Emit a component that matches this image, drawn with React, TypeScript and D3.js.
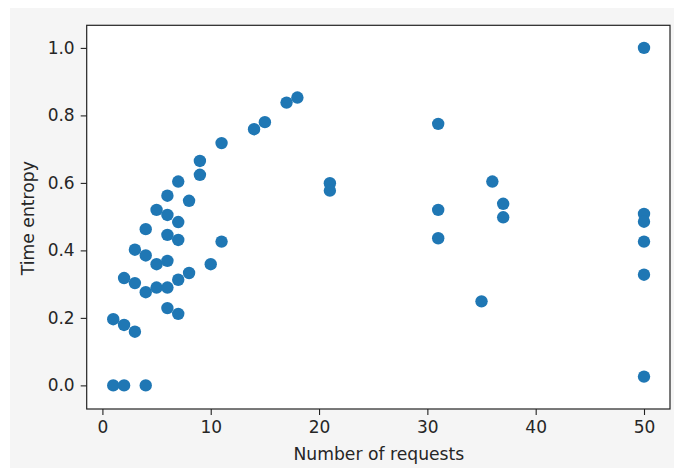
import React, { useEffect, useRef } from 'react';
import * as d3 from 'd3';

// values
const requests = [
  1, 2, 4,
  1, 2, 3,
  6, 7,
  2, 3, 4, 5, 6, 7, 8,
  3, 4, 5, 6, 10,
  4, 6, 7, 11,
  5, 6, 7, 8, 6, 7,
  9, 9, 11, 14, 15, 17, 18,
  21, 21,
  31, 31, 31,
  35, 36, 37, 37,
  50, 50, 50, 50, 50, 50,
];
const entropy = [
  0.0, 0.0, 0.0,
  0.196, 0.179, 0.159,
  0.229, 0.212,
  0.318, 0.303, 0.276, 0.29, 0.29, 0.313, 0.333,
  0.402, 0.385, 0.359, 0.369, 0.359,
  0.463, 0.446, 0.431, 0.426,
  0.52, 0.505, 0.484, 0.547, 0.562, 0.604,
  0.624, 0.665, 0.718, 0.759, 0.78, 0.838, 0.853,
  0.599, 0.577,
  0.775, 0.52, 0.436,
  0.249, 0.604, 0.538, 0.498,
  1.0, 0.508, 0.485, 0.426, 0.328, 0.026,
];
const xTicks = [0, 10, 20, 30, 40, 50];
const yTicks = [0, 0.2, 0.4, 0.6, 0.8, 1.0];

const W = 674;
const H = 468;

const App = () => {
  const ref = useRef<SVGSVGElement>(null);

  useEffect(() => {
    const svg = d3.select(ref.current);
    svg.selectAll('*').remove();

    const font = '"DejaVu Sans", sans-serif';
    const left = 86.7, right = 670, top = 25.3, bottom = 409;

    svg.append('rect').attr('width', W).attr('height', H).attr('fill', '#ffffff');
    svg.append('rect').attr('x', 10).attr('y', 8).attr('width', W - 10).attr('height', H - 8).attr('fill', '#f5f5f5');
    svg.append('rect').attr('x', left).attr('y', top).attr('width', right - left).attr('height', bottom - top).attr('fill', '#ffffff');

    const x = d3.scaleLinear().domain([-1.45, 52.4]).range([left, right]);
    const y = d3.scaleLinear().domain([-0.07, 1.067]).range([bottom, top]);

    // points
    svg.append('g')
      .selectAll('circle')
      .data(requests.map((r, i) => ({ r, e: entropy[i] })))
      .enter().append('circle')
      .attr('cx', d => x(d.r))
      .attr('cy', d => y(d.e))
      .attr('r', 6.2)
      .attr('fill', '#1f77b4');

    // axes
    const gx = svg.append('g')
      .attr('transform', `translate(0,${bottom})`)
      .call(d3.axisBottom(x).tickValues(xTicks).tickSize(6).tickPadding(6).tickFormat(d3.format('d')));
    const gy = svg.append('g')
      .attr('transform', `translate(${left},0)`)
      .call(d3.axisLeft(y).tickValues(yTicks).tickSize(6).tickPadding(6).tickFormat(d3.format('.1f')));

    [gx, gy].forEach(g => {
      g.select('.domain').remove();
      g.selectAll('line').attr('stroke', '#222').attr('stroke-width', 1.1);
      g.selectAll('text').attr('fill', '#262626').attr('font-family', font).attr('font-size', 17);
    });

    // frame
    svg.append('rect')
      .attr('x', left).attr('y', top)
      .attr('width', right - left).attr('height', bottom - top)
      .attr('fill', 'none').attr('stroke', '#222').attr('stroke-width', 1.2);

    svg.append('text')
      .attr('x', (left + right) / 2 + 0.5).attr('y', 459.5)
      .attr('text-anchor', 'middle')
      .attr('font-family', font).attr('font-size', 17.2).attr('fill', '#262626')
      .text('Number of requests');

    svg.append('text')
      .attr('transform', `translate(34,${(top + bottom) / 2 + 1}) rotate(-90)`)
      .attr('text-anchor', 'middle')
      .attr('font-family', font).attr('font-size', 17.2).attr('fill', '#262626')
      .text('Time entropy');
  }, []);

  return (
    <div style={{ position: 'absolute', left: 0, top: 0 }}>
      <svg ref={ref} width={W} height={H} style={{ display: 'block' }} />
    </div>
  );
};

export default App;
